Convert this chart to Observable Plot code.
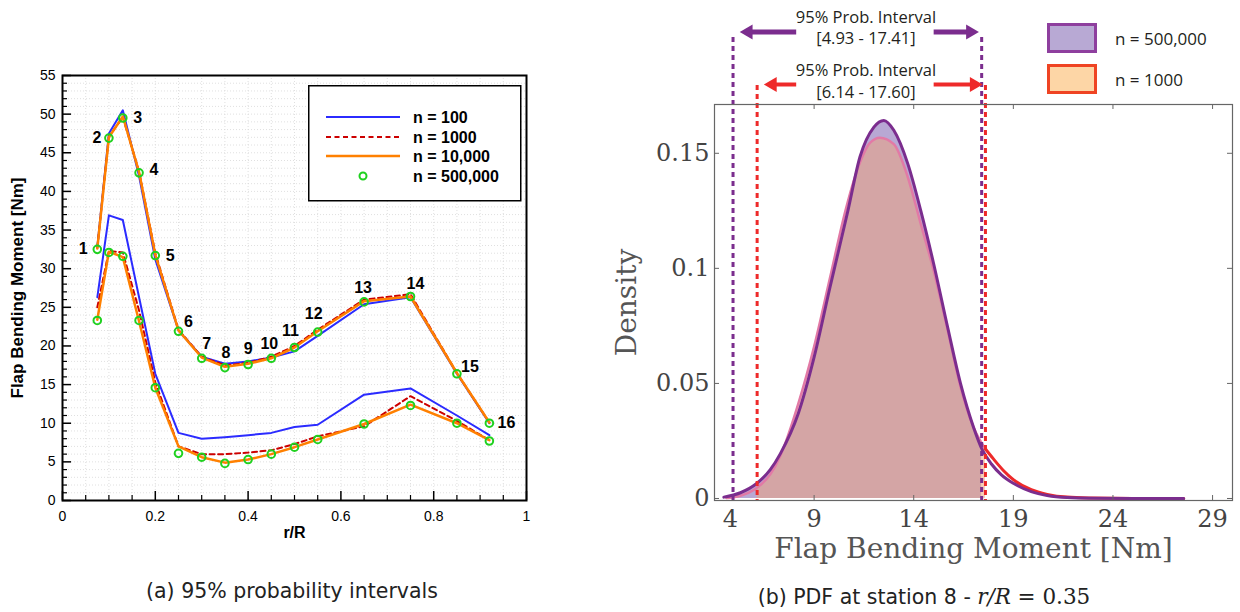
<!DOCTYPE html>
<html><head><meta charset="utf-8">
<script src="https://cdn.jsdelivr.net/npm/d3@7"></script>
<script src="https://cdn.jsdelivr.net/npm/@observablehq/plot@0.6"></script>
<style>
body{margin:0;background:#fff;width:1240px;height:612px;overflow:hidden;position:relative}
#left{position:absolute;left:0;top:0}
#right{position:absolute;left:560px;top:0}
.cap{position:absolute;font-family:"DejaVu Sans",sans-serif;font-size:20.5px;color:#222;white-space:nowrap;transform:translateX(-50%)}
#legL{position:absolute;left:308px;top:85px}
.lr{position:absolute;left:1047px;font-family:"Open Sans",sans-serif;font-size:17px;color:#231f20;display:flex;align-items:center}
.sw{width:44px;height:24px;margin-right:18px;border:3px solid}
</style></head><body>
<div id="left"></div><div id="right"></div>
<svg id="legL" width="214" height="117">
  <rect x="0.75" y="0.75" width="212" height="115" fill="#fff" stroke="#000" stroke-width="1.5"/>
  <line x1="18" x2="92" y1="32" y2="32" stroke="#2b2bff" stroke-width="2"/>
  <line x1="18" x2="92" y1="52" y2="52" stroke="#cc0000" stroke-width="2" stroke-dasharray="5,3.5"/>
  <line x1="18" x2="92" y1="71" y2="71" stroke="#ff8000" stroke-width="2.5"/>
  <circle cx="55" cy="91" r="3.5" fill="none" stroke="#1fd11f" stroke-width="2"/>
  <g font-family="Liberation Sans, Arial, sans-serif" font-weight="bold" font-size="16" fill="#000">
    <text x="105" y="37.5">n = 100</text>
    <text x="105" y="57.5">n = 1000</text>
    <text x="105" y="76.5">n = 10,000</text>
    <text x="105" y="96.5">n = 500,000</text>
  </g>
</svg>
<div class="lr" style="top:23px"><div class="sw" style="background:#b8a9d4;border-color:#8e3f9e"></div>n = 500,000</div>
<div class="lr" style="top:64px"><div class="sw" style="background:#fdd6a6;border-color:#ef4423"></div>n = 1000</div>
<div class="cap" style="left:292px;top:579px">(a) 95% probability intervals</div>
<div class="cap" style="left:924px;top:584px">(b) PDF at station 8 - <span style="font-family:'DejaVu Serif',serif;font-style:italic;font-size:21.5px">r/R</span> <span style="font-family:'DejaVu Serif',serif;font-size:21.5px">= 0.35</span></div>
<script>
// ---------- Panel (a) data ----------
const stations = [1,2,3,4,5,6,7,8,9,10,11,12,13,14,15,16];
const rR = [0.075,0.10,0.13,0.165,0.20,0.25,0.30,0.35,0.40,0.45,0.50,0.55,0.65,0.75,0.85,0.92];
const n100Upper  = [32.8,47.5,50.5,42.0,31.2,22.0,18.6,17.7,18.0,18.5,19.3,21.3,25.4,26.3,16.4,10.0];
const n100Lower  = [26.3,36.9,36.3,26.3,16.4,8.75,8.0,8.2,8.45,8.75,9.5,9.8,13.7,14.5,11.0,8.45];
const n1000Upper = [32.7,47.1,49.6,42.6,32.0,22.1,18.6,17.5,17.8,18.6,20.0,22.1,26.0,26.7,16.5,10.1];
const n1000Lower = [25.0,32.3,32.1,24.6,15.3,7.0,6.0,6.0,6.2,6.5,7.3,8.3,9.6,13.5,10.3,7.8];
const n10kUpper  = [32.6,47.0,49.7,42.5,31.8,22.0,18.5,17.3,17.7,18.4,19.8,21.9,25.8,26.4,16.5,10.1];
const n10kLower  = [23.4,32.2,31.5,23.2,14.6,7.0,5.6,4.9,5.3,6.0,6.9,7.9,9.9,12.4,10.0,7.8];
const n500kUpper = [32.5,46.9,49.5,42.4,31.7,21.9,18.4,17.2,17.6,18.4,19.8,21.8,25.7,26.4,16.4,10.0];
const n500kLower = [23.3,32.1,31.6,23.3,14.6,6.1,5.6,4.8,5.3,6.0,6.9,7.9,9.9,12.3,10.0,7.7];
const xTicksA = [0,0.2,0.4,0.6,0.8,1];
const xTickLabelsA = ["0","0.2","0.4","0.6","0.8","1"];
const yTicksA = [0,5,10,15,20,25,30,35,40,45,50,55];
// label placement (layout only, px offsets)
const labelOffsets = [[-14,0],[-12,0],[15,0],[15,-3],[15,0],[10,-9],[5,-14],[1,-15],[0,-16],[-2,-14],[-4,-17],[-4,-18],[-1,-14],[5,-13],[13,-7],[17,0]];

// ---------- Panel (b) data ----------
const pdfX500 = [4.47,5.3,6.1,6.8,7.3,8.2,9.0,9.8,10.7,11.3,12.0,12.5,13.0,13.7,14.35,15.0,15.7,16.35,17.0,17.45,17.9,18.4,19.0,19.9,20.7,21.7,23.0,25.0,27.55];
const pdfD500 = [0.0006,0.0025,0.0064,0.0125,0.0194,0.0368,0.0614,0.0919,0.1252,0.1484,0.1614,0.1643,0.1600,0.1455,0.1252,0.1020,0.0745,0.0499,0.0310,0.0210,0.0150,0.0103,0.0066,0.0030,0.0013,0.0004,0.0001,0.0,0.0];
const pdfX1000 = [4.6,5.3,6.1,6.8,7.3,8.2,9.0,9.8,10.6,11.3,11.8,12.3,13.0,13.7,14.35,15.0,15.7,16.35,17.0,17.6,18.0,18.5,19.0,19.9,20.7,21.7,23.0,25.0,27.55];
const pdfD1000 = [0.0002,0.0012,0.0045,0.0105,0.0185,0.0410,0.0660,0.0960,0.1260,0.1460,0.1545,0.1568,0.1540,0.1397,0.1194,0.0990,0.0732,0.0484,0.0310,0.0215,0.0172,0.0122,0.0082,0.0038,0.0018,0.0006,0.0002,0.0,0.0];
const interval500 = [4.93, 17.41];
const interval1000 = [6.14, 17.60];
const intervalText500 = ["95% Prob. Interval", "[4.93 - 17.41]"];
const intervalText1000 = ["95% Prob. Interval", "[6.14 - 17.60]"];
const xTicksB = [4,9,14,19,24,29];
const yTicksB = [0,0.05,0.1,0.15];
const yTickLabelsB = ["0","0.05","0.1","0.15"];

// ================= Panel (a) =================
{
  const W = 560, H = 560, mL = 62, mR = 34, mT = 75, mB = 60;
  const pw = W - mL - mR, ph = H - mT - mB;
  const xd = [0,1], yd = [0,55];
  const px2x = p => p * (xd[1]-xd[0]) / pw;
  const px2y = p => p * (yd[1]-yd[0]) / ph;
  const rows = vals => rR.map((x,i) => ({x, y: vals[i]}));
  const yMinor = d3.range(0,56,1).filter(v => v % 5 !== 0);
  const xMinor = d3.range(0,1.0001,0.05).filter(v => Math.abs(v*5 - Math.round(v*5)) > 1e-6);
  const labelMarks = stations.map((s,i) => Plot.text([{s, x: rR[i], y: n500kUpper[i]}],
    {x:"x", y:"y", text:"s", dx: labelOffsets[i][0], dy: labelOffsets[i][1], fontWeight: "bold", fontSize: 16}));
  const lineOpts = (stroke, w, dash) => ({x:"x", y:"y", stroke, strokeWidth: w, strokeDasharray: dash});
  const chart = Plot.plot({
    width: W, height: H, marginLeft: mL, marginRight: mR, marginTop: mT, marginBottom: mB,
    style: {fontFamily: "Liberation Sans, Arial, sans-serif", fontSize: "14px", color: "#000", background: "transparent"},
    x: {domain: xd, label: null},
    y: {domain: yd, label: null},
    marks: [
      Plot.ruleY(d3.range(1,55,1), {stroke: "#d8d8d8", strokeWidth: 0.8, strokeDasharray: "1,2"}),
      Plot.ruleX(d3.range(0.05,1,0.05), {stroke: "#d8d8d8", strokeWidth: 0.8, strokeDasharray: "1,2"}),
      Plot.line(rows(n100Upper), lineOpts("#2b2bff", 2)),
      Plot.line(rows(n100Lower), lineOpts("#2b2bff", 2)),
      Plot.line(rows(n1000Upper), lineOpts("#cc0000", 2, "5,3.5")),
      Plot.line(rows(n1000Lower), lineOpts("#cc0000", 2, "5,3.5")),
      Plot.line(rows(n10kUpper), lineOpts("#ff8000", 2.5)),
      Plot.line(rows(n10kLower), lineOpts("#ff8000", 2.5)),
      Plot.dot(rows(n500kUpper).concat(rows(n500kLower)), {x:"x", y:"y", r: 3.8, stroke: "#1fd11f", strokeWidth: 2, fill: "none"}),
      ...labelMarks,
      Plot.ruleY(yTicksA, {x1: xd[0], x2: xd[0] + px2x(9), stroke: "#000", strokeWidth: 1.5}),
      Plot.ruleY(yMinor, {x1: xd[0], x2: xd[0] + px2x(5), stroke: "#000", strokeWidth: 1.2}),
      Plot.ruleX(xTicksA, {y1: yd[0], y2: yd[0] + px2y(9), stroke: "#000", strokeWidth: 1.5}),
      Plot.ruleX(xMinor, {y1: yd[0], y2: yd[0] + px2y(5), stroke: "#000", strokeWidth: 1.2}),
      Plot.frame({stroke: "#000", strokeWidth: 2}),
      Plot.axisX({ticks: xTicksA, tickSize: 0, tickPadding: 11, tickFormat: (d,i) => xTickLabelsA[i], fontSize: 14}),
      Plot.axisY({ticks: yTicksA, tickSize: 0, tickPadding: 7, fontSize: 14}),
      Plot.text(["r/R"], {frameAnchor: "bottom", lineAnchor: "middle", dy: 32, fontWeight: "bold", fontSize: 16}),
      Plot.text(["Flap Bending Moment [Nm]"], {frameAnchor: "left", textAnchor: "middle", dx: -45, rotate: -90, fontWeight: "bold", fontSize: 17})
    ]
  });
  document.getElementById("left").appendChild(chart);
}

// ================= Panel (b) =================
{
  const W = 680, H = 565, mL = 154, mR = 8, mT = 104, mB = 65;
  const pw = W - mL - mR, ph = H - mT - mB;
  const xd = [4,30], yd = [-0.00087, 0.1712];
  const px2x = p => p * (xd[1]-xd[0]) / pw;
  const px2y = p => p * (yd[1]-yd[0]) / ph;
  const yAtPx = p => yd[1] - (p - mT) * (yd[1]-yd[0]) / ph; // y value at a pixel row (for margin annotations)
  const valueAt = (xs, ds, x) => {
    const i = d3.bisectRight(xs, x);
    if (i <= 0) return ds[0];
    if (i >= xs.length) return ds[ds.length-1];
    const t = (x - xs[i-1]) / (xs[i] - xs[i-1]);
    return ds[i-1] + t * (ds[i] - ds[i-1]);
  };
  const slice = (xs, ds, a, b) => {
    const out = [{x: a, d: valueAt(xs, ds, a)}];
    xs.forEach((x,i) => { if (x > a && x < b) out.push({x, d: ds[i]}); });
    out.push({x: b, d: valueAt(xs, ds, b)});
    return out;
  };
  const all500 = pdfX500.map((x,i) => ({x, d: pdfD500[i]}));
  const fill500 = slice(pdfX500, pdfD500, interval500[0], interval500[1]);
  const fill1000 = slice(pdfX1000, pdfD1000, interval1000[0], interval1000[1]);
  const pinkPart = slice(pdfX1000, pdfD1000, pdfX1000[0], interval1000[1]);
  const redPart = slice(pdfX1000, pdfD1000, interval1000[1], pdfX1000[pdfX1000.length-1]);
  const purple = "#7b2d8e", red = "#ee2a2a";
  const annCenter = 11.6, shaftGap = 3.5, headOff = px2x(9.3);
  const ann = [
    {lo: interval500[0], hi: interval500[1], texts: intervalText500, color: purple, yText: [17, 38], yArrow: 31.5, yDash: 37, w: 5},
    {lo: interval1000[0], hi: interval1000[1], texts: intervalText1000, color: red, yText: [70, 92], yArrow: 84, yDash: 85, w: 4}
  ];
  const annMarks = ann.flatMap(a => {
    const tipL = a.lo + 0.3, tipR = a.hi - 0.1, ya = yAtPx(a.yArrow);
    return [
      Plot.ruleX([a.lo, a.hi], {y1: yAtPx(a.yDash), y2: yd[0], stroke: a.color, strokeWidth: 3, strokeDasharray: "5,4"}),
      Plot.link([{x1: annCenter - shaftGap, x2: tipL + headOff, y: ya}, {x1: annCenter + shaftGap - 0.1, x2: tipR - headOff, y: ya}],
        {x1: "x1", x2: "x2", y1: "y", y2: "y", stroke: a.color, strokeWidth: a.w}),
      Plot.dot([{x: tipL + headOff, y: ya}], {x: "x", y: "y", symbol: "triangle", r: 5.5, fill: a.color, rotate: -90}),
      Plot.dot([{x: tipR - headOff, y: ya}], {x: "x", y: "y", symbol: "triangle", r: 5.5, fill: a.color, rotate: 90}),
      Plot.text(a.texts.map((t,i) => ({t, y: yAtPx(a.yText[i])})), {x: annCenter, y: "y", text: "t", fontFamily: "Open Sans, sans-serif", fontSize: 16.5, fill: "#231f20"})
    ];
  });
  const chart = Plot.plot({
    width: W, height: H, marginLeft: mL, marginRight: mR, marginTop: mT, marginBottom: mB,
    style: {fontFamily: "DejaVu Serif, serif", fontSize: "24px", color: "#444", background: "transparent", overflow: "visible"},
    x: {domain: xd, label: null},
    y: {domain: yd, label: null},
    marks: [
      Plot.areaY(fill500, {x: "x", y: "d", fill: "#b8a8d4", curve: "monotone-x"}),
      Plot.areaY(fill1000, {x: "x", y: "d", fill: "#f0a276", fillOpacity: 0.5, curve: "monotone-x"}),
      Plot.line(pinkPart, {x: "x", y: "d", stroke: "#e27aa6", strokeWidth: 2.5, curve: "monotone-x"}),
      Plot.line(redPart, {x: "x", y: "d", stroke: red, strokeWidth: 3, curve: "monotone-x"}),
      Plot.line(all500, {x: "x", y: "d", stroke: purple, strokeWidth: 3, curve: "monotone-x"}),
      ...annMarks,
      Plot.ruleX(xTicksB, {y1: yd[0], y2: yd[0] + px2y(5), stroke: "#666", strokeWidth: 1}),
      Plot.ruleX(xTicksB, {y1: yd[1], y2: yd[1] - px2y(5), stroke: "#666", strokeWidth: 1}),
      Plot.ruleY(yTicksB, {x1: xd[0], x2: xd[0] + px2x(5), stroke: "#666", strokeWidth: 1}),
      Plot.ruleY(yTicksB, {x1: xd[1], x2: xd[1] - px2x(5), stroke: "#666", strokeWidth: 1}),
      Plot.frame({stroke: "#666", strokeWidth: 1.2}),
      Plot.axisX({ticks: xTicksB.slice(0,1), tickSize: 0, tickPadding: 9, dx: 16, fontSize: 24, fill: "#444"}),
      Plot.axisX({ticks: xTicksB.slice(1), tickSize: 0, tickPadding: 9, fontSize: 24, fill: "#444"}),
      Plot.axisY({ticks: yTicksB, tickSize: 0, tickPadding: 5, tickFormat: (d,i) => yTickLabelsB[i], fontSize: 24, fill: "#444"}),
      Plot.text(["Flap Bending Moment [Nm]"], {frameAnchor: "bottom", lineAnchor: "middle", dy: 49, fontSize: 28, fill: "#555"}),
      Plot.text(["Density"], {frameAnchor: "left", textAnchor: "middle", dx: -87, rotate: -90, fontSize: 28, fill: "#555"})
    ]
  });
  document.getElementById("right").appendChild(chart);
}
</script>
</body></html>
